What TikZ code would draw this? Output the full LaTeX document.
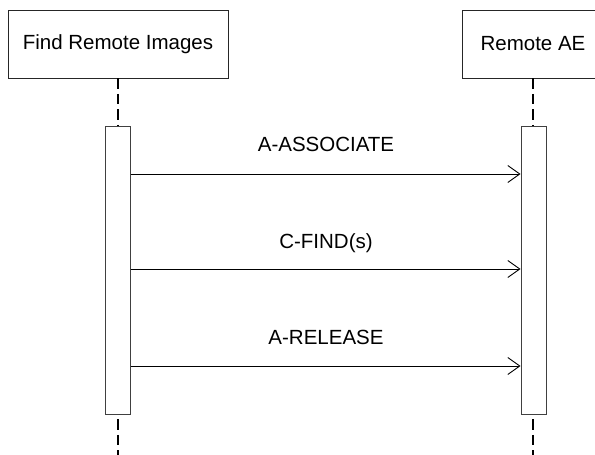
\documentclass[tikz,border=0pt]{standalone}
\usepackage{fontspec}
\setmainfont{Liberation Sans}
\usetikzlibrary{arrows.meta}
\begin{document}
\begin{tikzpicture}[x=1pt,y=-1pt,
  actor/.style={draw=black!85,line width=0.9pt,fill=white,minimum width=220pt,minimum height=68pt,inner sep=0pt,font=\fontsize{20.5}{24}\selectfont},
  lifeline/.style={draw=black,line width=2pt,dash pattern=on 10.5pt off 5pt},
  activation/.style={draw=black!75,line width=0.9pt,fill=white,minimum width=25pt,minimum height=288pt,inner sep=0pt},
  msg/.style={draw=black,line width=0.9pt,-{Straight Barb[length=12pt,width=17pt,line width=0.9pt]}},
  lbl/.style={font=\fontsize{20.5}{24}\selectfont,inner sep=0pt,anchor=base}
]
\useasboundingbox (0,0) rectangle (595,455);
\clip (0,0) rectangle (595,455);
\node[actor] (A) at (118,44) {Find Remote Images};
\node[actor,minimum width=142pt] (B) at (533,44) {Remote AE};
\coordinate (Aend) at (118,458);
\coordinate (Bend) at (533,458);
\draw[lifeline] (A.south) -- (Aend);
\draw[lifeline] (B.south) -- (Bend);
\node[activation] (actA) at (118,270) {};
\node[activation] (actB) at (533.5,270) {};
\coordinate (a1) at (actA.east |- 0,174);
\coordinate (b1) at (actB.west |- 0,174);
\coordinate (a2) at (actA.east |- 0,269);
\coordinate (b2) at (actB.west |- 0,269);
\coordinate (a3) at (actA.east |- 0,366);
\coordinate (b3) at (actB.west |- 0,366);
\draw[msg] (a1) -- (b1);
\draw[msg] (a2) -- (b2);
\draw[msg] (a3) -- (b3);
\node[lbl] (l1) at (326,151.5) {A-ASSOCIATE};
\node[lbl] (l2) at (326,248) {C-FIND(s)};
\node[lbl] (l3) at (326,344) {A-RELEASE};
\end{tikzpicture}
\end{document}
